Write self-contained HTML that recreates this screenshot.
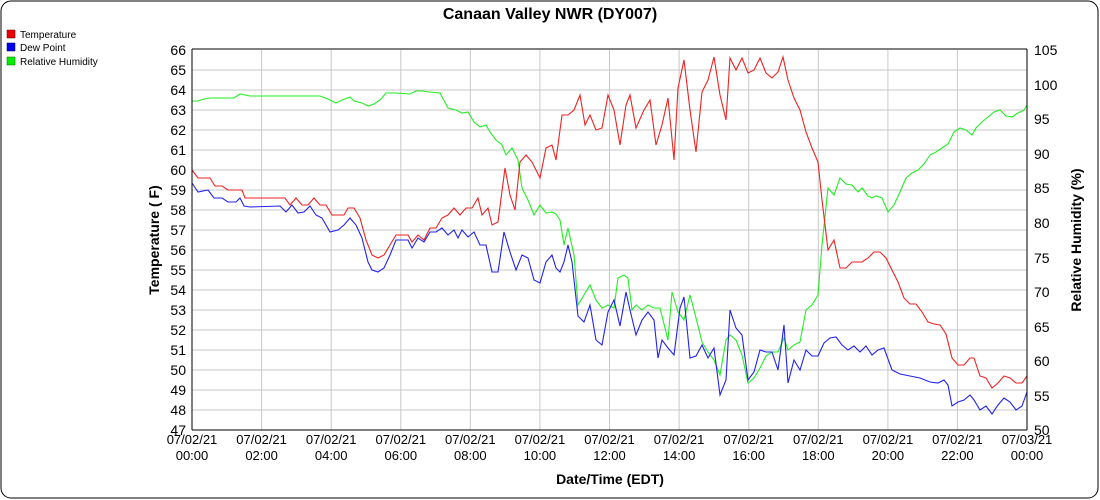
<!DOCTYPE html>
<html><head><meta charset="utf-8"><style>
html,body{margin:0;padding:0;background:#fff;}
svg{display:block;font-family:"Liberation Sans",sans-serif;}
</style></head><body>
<svg width="1100" height="500" viewBox="0 0 1100 500">
<rect x="1" y="1" width="1097" height="497" rx="10" fill="#fff" stroke="#000" stroke-width="1"/>
<text x="550" y="19" text-anchor="middle" font-size="16" font-weight="bold">Canaan Valley NWR (DY007)</text>
<rect x="7" y="30" width="8" height="8" fill="#e00" stroke="#600" stroke-width="0.5"/>
<text x="20" y="38" font-size="10">Temperature</text>
<rect x="7" y="43" width="8" height="8" fill="#00e" stroke="#006" stroke-width="0.5"/>
<text x="20" y="51" font-size="10">Dew Point</text>
<rect x="7" y="57" width="8" height="8" fill="#0e0" stroke="#060" stroke-width="0.5"/>
<text x="20" y="65" font-size="10">Relative Humidity</text>
<g stroke="#c8c8c8" stroke-width="1">
<line x1="192" x2="1027" y1="70" y2="70"/><line x1="192" x2="1027" y1="90" y2="90"/><line x1="192" x2="1027" y1="110" y2="110"/><line x1="192" x2="1027" y1="130" y2="130"/><line x1="192" x2="1027" y1="150" y2="150"/><line x1="192" x2="1027" y1="170" y2="170"/><line x1="192" x2="1027" y1="190" y2="190"/><line x1="192" x2="1027" y1="210" y2="210"/><line x1="192" x2="1027" y1="230" y2="230"/><line x1="192" x2="1027" y1="250" y2="250"/><line x1="192" x2="1027" y1="270" y2="270"/><line x1="192" x2="1027" y1="290" y2="290"/><line x1="192" x2="1027" y1="310" y2="310"/><line x1="192" x2="1027" y1="330" y2="330"/><line x1="192" x2="1027" y1="350" y2="350"/><line x1="192" x2="1027" y1="370" y2="370"/><line x1="192" x2="1027" y1="390" y2="390"/><line x1="192" x2="1027" y1="410" y2="410"/>
<line y1="50" y2="430" x1="261.6" x2="261.6"/><line y1="50" y2="430" x1="331.2" x2="331.2"/><line y1="50" y2="430" x1="400.8" x2="400.8"/><line y1="50" y2="430" x1="470.3" x2="470.3"/><line y1="50" y2="430" x1="539.9" x2="539.9"/><line y1="50" y2="430" x1="609.5" x2="609.5"/><line y1="50" y2="430" x1="679.1" x2="679.1"/><line y1="50" y2="430" x1="748.7" x2="748.7"/><line y1="50" y2="430" x1="818.3" x2="818.3"/><line y1="50" y2="430" x1="887.9" x2="887.9"/><line y1="50" y2="430" x1="957.4" x2="957.4"/>
</g>
<g fill="none" stroke-width="1.1">
<polyline stroke="#22ee22" points="192,101 198,101 204,99 210,98 230,98 234,98 240,94 250,96 300,96 320,96 328,99 336,103 342,100 350,97 354,101 362,103 368,106 374,104 380,100 386,93 396,93 410,94 416,91 422,91 430,92 440,93 448,108 456,110 462,113 468,112 474,122 480,127 486,125 490,132 496,140 502,145 506,155 512,148 518,160 522,188 528,200 534,215 540,205 546,213 552,212 556,214 560,220 564,245 568,228 574,255 578,305 584,295 590,285 596,300 602,308 608,305 614,308 618,278 624,275 628,278 632,310 636,305 642,310 648,305 654,308 660,308 668,340 672,292 678,312 684,320 690,295 696,318 702,342 708,352 714,360 720,375 726,340 730,335 736,340 742,355 748,383 754,378 760,368 766,356 772,352 778,352 784,338 788,350 794,345 800,342 806,310 812,305 818,295 822,245 828,188 834,195 840,178 846,184 852,185 858,192 862,188 868,196 872,198 876,196 882,198 888,212 894,205 900,192 906,178 912,173 918,170 924,164 930,155 936,152 942,148 948,144 954,132 960,128 966,130 972,135 976,128 982,122 988,117 994,112 1000,110 1006,116 1012,117 1018,113 1024,110 1027,105"/>
<polyline stroke="#ee2222" points="192,170 198,178 210,178 215,186 222,186 228,190 242,190 245,198 285,198 290,205 296,198 302,205 308,205 314,198 320,205 326,205 332,215 344,215 348,208 354,208 360,218 366,240 372,255 378,258 384,255 390,245 396,235 408,235 412,242 418,235 424,240 430,228 436,228 442,218 448,215 454,208 460,215 466,208 472,208 478,198 482,215 488,208 492,225 498,222 505,168 510,195 515,210 520,162 526,155 532,162 540,178 546,148 552,145 556,160 562,115 568,115 574,110 580,95 585,125 590,115 596,130 602,128 608,95 614,110 620,145 626,105 630,95 636,128 644,110 650,100 656,145 662,125 668,98 674,160 678,88 684,60 690,110 696,152 702,92 708,80 714,57 720,95 726,120 730,58 736,70 742,58 748,73 754,70 760,58 766,73 772,78 778,72 783,57 788,80 794,98 800,110 806,132 812,148 818,162 822,200 828,250 834,240 840,268 846,268 852,262 862,262 868,258 874,252 880,252 886,258 892,270 898,282 904,298 910,304 916,304 922,312 928,322 934,324 940,325 946,334 952,358 958,365 964,365 970,358 974,358 980,376 986,378 992,388 998,383 1004,376 1010,378 1016,383 1022,383 1027,376"/>
<polyline stroke="#2222ee" points="192,183 198,192 208,190 214,198 222,198 228,202 236,202 240,198 244,206 250,207 280,206 286,212 292,205 298,213 304,212 310,206 316,215 322,218 330,232 338,230 344,225 350,218 356,225 362,238 368,262 372,270 378,272 384,268 390,255 396,240 408,240 412,248 418,238 424,242 430,232 436,232 442,228 448,235 454,230 458,238 462,230 468,237 474,232 480,245 486,245 492,272 498,272 504,232 510,252 516,270 522,255 528,258 534,280 540,283 546,262 552,255 556,268 560,272 564,262 568,245 572,262 578,316 584,322 590,305 596,340 602,345 608,312 614,300 620,326 626,292 630,310 636,335 642,320 648,312 654,320 658,358 662,340 668,348 674,355 680,308 684,297 690,358 696,356 702,345 708,358 714,348 720,395 726,380 730,310 736,328 742,335 748,380 754,372 760,350 766,352 772,352 778,370 784,325 788,383 794,360 800,370 806,350 812,356 818,356 824,343 830,338 836,337 842,345 848,350 854,346 860,352 866,346 872,355 878,350 884,348 892,370 900,374 910,376 920,378 930,382 938,383 944,380 948,385 952,406 958,402 964,400 970,395 974,400 980,410 986,406 992,414 998,405 1004,398 1010,402 1016,410 1022,406 1027,392"/>
</g>
<g stroke="#000" stroke-width="1">
<line x1="192" y1="49" x2="1027" y2="49"/>
<line x1="192" y1="49" x2="192" y2="430"/>
<line x1="1027" y1="49" x2="1027" y2="430"/>
<line x1="192" y1="430" x2="1027" y2="430"/>
</g>
<g font-size="14" text-anchor="end">
<text x="186" y="55">66</text><text x="186" y="75">65</text><text x="186" y="95">64</text><text x="186" y="115">63</text><text x="186" y="135">62</text><text x="186" y="155">61</text><text x="186" y="175">60</text><text x="186" y="195">59</text><text x="186" y="215">58</text><text x="186" y="235">57</text><text x="186" y="255">56</text><text x="186" y="275">55</text><text x="186" y="295">54</text><text x="186" y="315">53</text><text x="186" y="335">52</text><text x="186" y="355">51</text><text x="186" y="375">50</text><text x="186" y="395">49</text><text x="186" y="415">48</text><text x="186" y="435">47</text>
</g>
<g font-size="14">
<text x="1034" y="55">105</text><text x="1034" y="90">100</text><text x="1034" y="124">95</text><text x="1034" y="159">90</text><text x="1034" y="193">85</text><text x="1034" y="228">80</text><text x="1034" y="263">75</text><text x="1034" y="297">70</text><text x="1034" y="332">65</text><text x="1034" y="366">60</text><text x="1034" y="401">55</text><text x="1034" y="435">50</text>
</g>
<g font-size="13" text-anchor="middle">
<text x="192" y="444">07/02/21</text><text x="192" y="460">00:00</text>
<text x="261.6" y="444">07/02/21</text><text x="261.6" y="460">02:00</text>
<text x="331.2" y="444">07/02/21</text><text x="331.2" y="460">04:00</text>
<text x="400.8" y="444">07/02/21</text><text x="400.8" y="460">06:00</text>
<text x="470.3" y="444">07/02/21</text><text x="470.3" y="460">08:00</text>
<text x="539.9" y="444">07/02/21</text><text x="539.9" y="460">10:00</text>
<text x="609.5" y="444">07/02/21</text><text x="609.5" y="460">12:00</text>
<text x="679.1" y="444">07/02/21</text><text x="679.1" y="460">14:00</text>
<text x="748.7" y="444">07/02/21</text><text x="748.7" y="460">16:00</text>
<text x="818.3" y="444">07/02/21</text><text x="818.3" y="460">18:00</text>
<text x="887.9" y="444">07/02/21</text><text x="887.9" y="460">20:00</text>
<text x="957.4" y="444">07/02/21</text><text x="957.4" y="460">22:00</text>
<text x="1027" y="444">07/03/21</text><text x="1027" y="460">00:00</text>
</g>
<text x="610" y="484" text-anchor="middle" font-size="14" font-weight="bold">Date/Time (EDT)</text>
<text transform="translate(159,240) rotate(-90)" text-anchor="middle" font-size="14" font-weight="bold">Temperature ( F)</text>
<text transform="translate(1081,240) rotate(-90)" text-anchor="middle" font-size="14" font-weight="bold">Relative Humidity (%)</text>
</svg>
</body></html>
